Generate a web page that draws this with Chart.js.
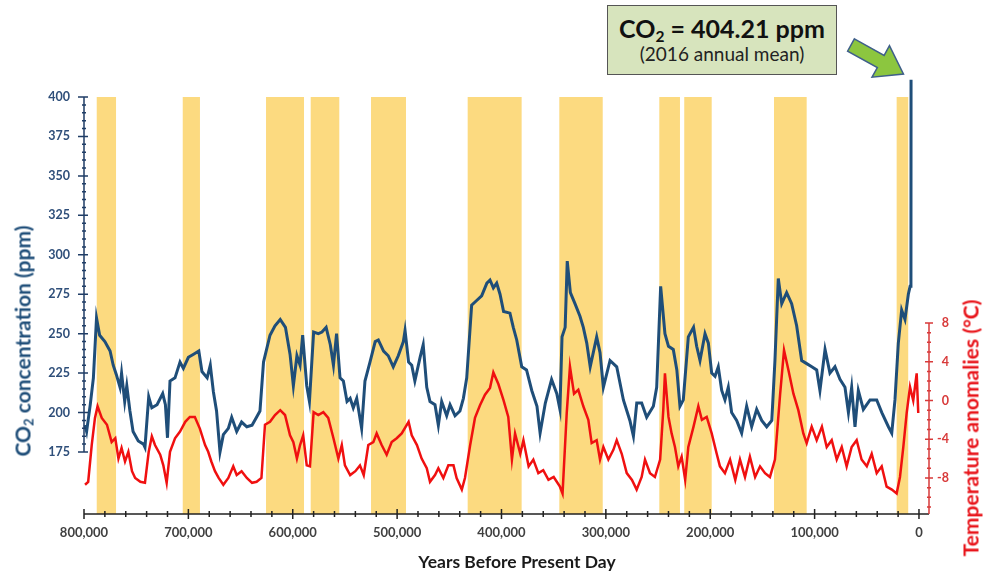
<!DOCTYPE html>
<html>
<head>
<meta charset="utf-8">
<script src="https://cdn.jsdelivr.net/npm/chart.js@4.4.1/dist/chart.umd.min.js"></script>
<style>
  html, body { margin: 0; padding: 0; background: #fff; }
  #wrap { position: relative; width: 983px; height: 571px; overflow: hidden; font-family: Lato, "Open Sans", sans-serif; }
  #wrap canvas { position: absolute; left: 0; top: 0; }
  .title { position: absolute; white-space: nowrap; font-weight: bold; transform: translate(-50%, -50%); }
  .rot { transform: translate(-50%, -50%) rotate(-90deg); }
  sub { font-size: 62%; vertical-align: -0.25em; line-height: 0; }
  #note { position: absolute; left: 607px; top: 5px; width: 228px; height: 68px; background: #d7e4bd;
          border: 1.5px solid #555; box-sizing: content-box; text-align: center; color: #111; }
  #note .big { font-weight: bold; font-size: 25px; margin-top: 7px; line-height: 30px; }
  #note .small { font-size: 19px; line-height: 22px; color: #222; }
  #arrow { position: absolute; left: 0; top: 0; }
</style>
</head>
<body>
<div id="wrap">
  <canvas id="chart" width="983" height="571"></canvas>
  <div class="title rot" style="left:22px; top:341px; font-size:21px; color:#1f4e79;">CO<sub>2</sub> concentration (ppm)</div>
  <div class="title rot" style="left:970px; top:428px; font-size:21px; color:#e8141a;">Temperature anomalies (°C)</div>
  <div class="title" style="left:517px; top:561px; font-size:17.5px; color:#1a1a1a;">Years Before Present Day</div>
  <div id="note">
    <div class="big">CO<sub>2</sub> = 404.21 ppm</div>
    <div class="small">(2016 annual mean)</div>
  </div>
  <svg id="arrow" width="983" height="100">
    <polygon points="0,-7 34,-7 34,-18 60,0 34,18 34,7 0,7" fill="#8cc63f" stroke="#3f5f8a" stroke-width="1.5"
             transform="translate(851,45) rotate(29)"/>
  </svg>
</div>
<script>
// CO2 record (thousands of years before present, ppm)
const co2Years = [799, 797.5, 794, 791, 788, 785, 780, 775, 772, 769, 765.5, 764, 761, 759, 756, 753, 748, 743, 741.6, 738,
  735, 730, 724.6, 722, 720, 717.6, 712.8, 708, 704.8, 700, 695, 690, 687, 682, 679, 676, 673, 669.7, 666.5, 661.7,
  658.5, 653.7, 649, 644, 639, 634.7, 631.4, 628, 621.8, 617, 612, 607, 602.6, 599.4, 596, 593, 590.5, 586.6, 584, 580,
  575.5, 572, 568, 564, 561, 558, 554.7, 551.5, 548, 545, 542, 538.7, 534, 530.8, 526, 521, 518, 513, 508.5, 503.7,
  498.9, 494, 492.4, 489, 486, 483, 478, 475, 471.6, 468.5, 463.7, 460.5, 457.3, 452.5, 449.3, 444.5, 439.8, 436.5, 433.3, 428.6,
  423.8, 419, 414, 411, 407.8, 404.6, 401.4, 398, 391.9, 388.7, 385.4, 380.6, 376, 371, 366, 363, 358, 352, 347, 344,
  342, 339, 337, 334, 329.6, 324.8, 321.6, 318.3, 315, 308.8, 305.6, 302.4, 296, 289.6, 283.2, 277, 273.6, 270.4, 265.7, 260.9,
  254.5, 251.3, 247.5, 243.4, 240, 235.4, 232, 229, 225.8, 221, 216, 213, 209.8, 205, 201.8, 198.6, 195.4, 192.3, 189, 185.9,
  182.7, 179.5, 174.7, 169.9, 165.1, 160.3, 155.5, 150.7, 145.9, 141, 138, 134.8, 131.5, 126.8, 122, 117.2, 112.4, 107.6, 102.7, 98,
  94.9, 90, 85.3, 80.5, 75.7, 70.9, 67.6, 64.5, 61.3, 58.1, 53.3, 46.9, 40.5, 35.6, 29.3, 26.1, 23, 19.8, 16.6, 13.4,
  10.2, 8.5, 7.7, 7.6];
const co2Values = [192, 188, 205, 222, 260, 249, 245, 239, 230, 224, 216, 225, 207, 217, 201, 188, 182, 180, 178, 210,
  203, 205, 212, 205, 184, 220, 222, 232, 228, 235, 237, 239, 226, 222, 230, 213, 201, 175, 186, 190,
  197, 188, 194, 191, 192, 197, 201, 232, 249, 255, 259, 254, 237, 217, 236, 230, 249, 217, 207, 251,
  250, 251, 254, 243, 230, 250, 222, 220, 207, 209, 203, 209, 190, 220, 232, 245, 246, 239, 236, 229,
  236, 245, 252, 232, 230, 220, 235, 243, 216, 207, 205, 192, 207, 198, 205, 198, 201, 209, 222, 268,
  271, 274, 282, 284, 279, 282, 275, 264, 263, 254, 246, 229, 227, 214, 204, 187, 206, 221, 212, 202,
  248, 254, 296, 276, 269, 261, 254, 244, 229, 248, 238, 216, 233, 229, 208, 195, 185, 206, 206, 197,
  204, 216, 280, 250, 242, 240, 227, 204, 208, 248, 254, 242, 233, 250, 244, 225, 223, 229, 214, 208,
  216, 200, 195, 187, 204, 191, 202, 195, 191, 195, 233, 285, 269, 276, 269, 255, 233, 231, 229, 227,
  214, 240, 225, 229, 221, 216, 200, 216, 191, 214, 202, 208, 208, 200, 191, 187, 208, 244, 265, 259,
  275, 280, 282, 411];

// temperature anomaly record (thousands of years before present, degrees C)
const tempYears = [799, 796, 792.6, 789.5, 787, 783, 778, 773.5, 770, 767, 764, 760.7, 757.5, 754, 751, 746, 741.6, 738, 735, 732,
  727, 724, 720.8, 717.6, 712.8, 708, 703, 698.6, 693.8, 689, 684, 681, 678, 674.5, 671, 666.5, 661.7, 657, 653.7, 649,
  644, 639, 634.6, 630, 626.6, 621.8, 617, 612, 607.4, 602.6, 599.4, 596, 593, 590, 586.6, 583.5, 580, 575.5, 570.7, 566,
  561, 556.3, 553, 550, 545, 540, 535.6, 532, 527.6, 522.8, 519.6, 514.8, 510, 505.2, 500.4, 495.6, 489, 486, 481, 476.5,
  471.6, 468.5, 463.7, 460.5, 455.7, 450.9, 446, 443, 438, 435, 430, 425.4, 420.6, 415.8, 411, 407.8, 403, 398, 393.5, 390,
  387, 382, 379, 374, 369.5, 364.7, 360, 355, 350, 344, 341.5, 337.5, 334.4, 330.5, 326.4, 321.6, 316.8, 313.6, 308.8, 305.6,
  302.4, 297.6, 292.8, 289.6, 284.8, 280, 275, 270.5, 265.7, 262.5, 257.7, 253, 248, 245, 243.4, 240, 237, 233.8, 230.6, 227.4,
  224, 221, 216, 211.4, 208, 203.4, 198.6, 193.8, 190.7, 185.9, 181, 176, 171.5, 166.7, 162, 157, 152.3, 147.5, 142.8, 138,
  133, 129.3, 125, 120.3, 115.6, 110.8, 107.6, 102.8, 98, 93, 88.4, 83.6, 78.8, 74, 69.3, 64.5, 59.7, 55, 50, 45.3,
  40.5, 35.7, 31, 26, 21.4, 18.2, 15, 11.8, 8.6, 5.5, 2.2, 0.7];
const tempValues = [-8.7, -8.4, -4.6, -1.8, -0.6, -1.8, -2.5, -4.3, -3.9, -6.0, -4.9, -6.3, -5.3, -7.3, -8.0, -8.4, -8.5, -5.3, -3.7, -4.6,
  -5.6, -6.7, -8.5, -5.3, -3.9, -3.2, -2.2, -1.7, -1.7, -2.9, -4.6, -5.3, -6.3, -7.3, -8.0, -8.7, -8.0, -6.8, -7.7, -7.3,
  -8.0, -8.5, -8.4, -8.0, -2.5, -2.2, -1.5, -1.0, -1.5, -3.6, -4.3, -6.0, -4.6, -3.6, -6.7, -6.8, -1.2, -1.5, -1.2, -1.8,
  -3.9, -6.0, -4.6, -6.7, -7.7, -7.3, -6.7, -7.7, -4.6, -4.3, -3.4, -4.6, -5.6, -4.3, -3.9, -3.4, -2.2, -3.6, -4.6, -6.0,
  -7.0, -8.4, -7.7, -7.0, -8.0, -6.7, -6.7, -8.0, -9.2, -8.0, -4.6, -1.8, -0.5, 0.6, 1.3, 2.9, 1.7, 0.0, -1.7, -6.1,
  -3.4, -5.5, -4.1, -6.8, -6.1, -7.5, -7.2, -8.2, -7.9, -8.9, -9.6, -1.3, 3.5, 0.7, 1.1, -0.6, -2.0, -4.4, -4.1, -6.1,
  -4.8, -6.1, -5.1, -4.1, -5.5, -7.5, -8.2, -9.2, -7.9, -6.1, -7.5, -7.9, -6.1, -1.0, 2.8, -1.7, -3.4, -4.8, -6.8, -5.8,
  -8.2, -4.8, -2.7, -0.6, -2.0, -1.7, -3.4, -5.5, -6.8, -7.5, -6.1, -8.2, -6.1, -7.9, -5.8, -7.9, -6.8, -7.5, -7.9, -6.1,
  0.7, 5.2, 3.1, 0.7, -1.0, -3.4, -4.4, -2.7, -4.1, -2.7, -4.8, -4.1, -6.1, -4.8, -6.8, -4.8, -4.1, -6.1, -6.8, -5.5,
  -7.5, -6.8, -8.9, -9.2, -9.6, -7.9, -4.8, -1.3, 1.4, 0.0, 2.8, -1.3];

// interglacial bands (thousands of years before present)
const bandStarts = [787.8, 705.4, 625.6, 582.8, 525, 432.4, 344.6, 248.8, 224.9, 138.9, 21.4];
const bandEnds = [769.3, 688.9, 589.2, 555.4, 491.5, 380.7, 303, 229, 198.6, 107.6, 10.3];

// axis ticks
const xTickValues = [800, 700, 600, 500, 400, 300, 200, 100, 0];
const xTickLabels = ['800,000', '700,000', '600,000', '500,000', '400,000', '300,000', '200,000', '100,000', '0'];
const co2TickValues = [175, 200, 225, 250, 275, 300, 325, 350, 375, 400];
const tempTickValues = [-8, -4, 0, 4, 8];

const co2Points = co2Years.map((x, i) => ({ x: x, y: co2Values[i] }));
const tempPoints = tempYears.map((x, i) => ({ x: x, y: tempValues[i] }));

// yellow interglacial bands behind the lines
const bandsPlugin = {
    id: 'bands',
    beforeDatasetsDraw(chart) {
        const { ctx, chartArea, scales } = chart;
        ctx.save();
        ctx.fillStyle = '#fcda80';
        bandStarts.forEach((s, i) => {
            const x1 = scales.x.getPixelForValue(s);
            const x2 = scales.x.getPixelForValue(bandEnds[i]);
            ctx.fillRect(x1, chartArea.top, x2 - x1, chartArea.bottom - chartArea.top);
        });
        ctx.restore();
    }
};

// axes drawn by hand: partial axis lines, minor ticks
const axesPlugin = {
    id: 'axes',
    afterDraw(chart) {
        const { ctx, chartArea, scales } = chart;
        const xs = scales.x, ys = scales.y, ts = scales.y1;
        ctx.save();
        ctx.lineWidth = 1.5;

        // x axis
        const yb = chartArea.bottom;
        ctx.strokeStyle = '#222';
        ctx.beginPath();
        ctx.moveTo(chartArea.left, yb);
        ctx.lineTo(chartArea.right, yb);
        for (let v = 800; v >= 0; v -= 20) {
            const px = xs.getPixelForValue(v);
            const major = v % 100 === 0;
            ctx.moveTo(px, yb - (major ? 5 : 3));
            ctx.lineTo(px, yb + (major ? 5 : 3));
        }
        ctx.stroke();
        ctx.fillStyle = '#404040';
        ctx.font = 'bold 13px Lato';
        ctx.textAlign = 'center';
        ctx.textBaseline = 'middle';
        xTickValues.forEach((v, i) => {
            ctx.fillText(xTickLabels[i], xs.getPixelForValue(v), yb + 19);
        });

        // left CO2 axis
        const xl = chartArea.left;
        ctx.strokeStyle = '#1f3d66';
        ctx.beginPath();
        ctx.moveTo(xl, ys.getPixelForValue(400));
        ctx.lineTo(xl, ys.getPixelForValue(175));
        for (let v = 175; v <= 400; v += 5) {
            const py = ys.getPixelForValue(v);
            const major = v % 25 === 0;
            ctx.moveTo(xl - (major ? 6 : 2), py);
            ctx.lineTo(xl + (major ? 4 : 2), py);
        }
        ctx.stroke();
        ctx.fillStyle = '#2f4f7a';
        ctx.font = 'bold 12.5px Lato';
        ctx.textAlign = 'right';
        co2TickValues.forEach(v => {
            ctx.fillText(String(v), xl - 14, ys.getPixelForValue(v));
        });

        // right temperature axis
        const xr = chartArea.right;
        ctx.strokeStyle = '#d83a3a';
        ctx.beginPath();
        ctx.moveTo(xr, ts.getPixelForValue(8));
        ctx.lineTo(xr, chartArea.bottom);
        for (let v = -11; v <= 8; v += 1) {
            const py = ts.getPixelForValue(v);
            const major = v % 4 === 0;
            ctx.moveTo(xr - (major ? 4 : 2), py);
            ctx.lineTo(xr + (major ? 4 : 2), py);
        }
        ctx.stroke();
        ctx.fillStyle = '#d83a3a';
        ctx.textAlign = 'right';
        tempTickValues.forEach(v => {
            ctx.fillText(String(v), xr + 20, ts.getPixelForValue(v));
        });
        ctx.restore();
    }
};

new Chart(document.getElementById('chart'), {
    type: 'line',
    data: {
        datasets: [
            {
                label: 'Temperature',
                data: tempPoints,
                yAxisID: 'y1',
                borderColor: '#f01010',
                borderWidth: 2.5,
                pointRadius: 0,
                tension: 0,
                clip: false
            },
            {
                label: 'CO2',
                data: co2Points,
                yAxisID: 'y',
                borderColor: '#1f4e79',
                borderWidth: 3,
                pointRadius: 0,
                tension: 0,
                clip: false
            }
        ]
    },
    options: {
        responsive: false,
        animation: false,
        layout: { padding: { left: 84, right: 54, top: 97, bottom: 57 } },
        scales: {
            x: { type: 'linear', reverse: true, min: -9.6, max: 800, display: false },
            y: { type: 'linear', min: 135.7, max: 400, display: false },
            y1: { type: 'linear', min: -11.72, max: 31.33, display: false }
        },
        plugins: {
            legend: { display: false },
            tooltip: { enabled: false }
        }
    },
    plugins: [bandsPlugin, axesPlugin]
});
</script>
</body>
</html>
